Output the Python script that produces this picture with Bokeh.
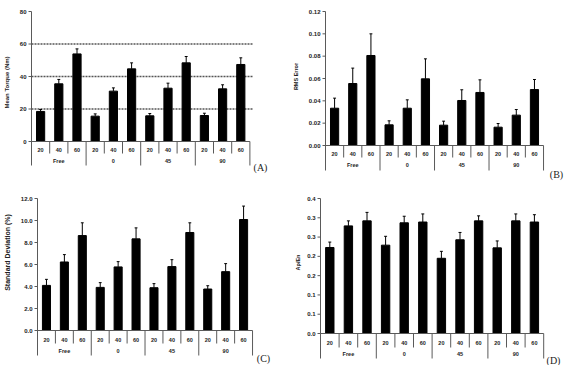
import math
from bokeh.plotting import figure
from bokeh.layouts import column, row
from bokeh.models import Range1d
from bokeh.core.properties import value
from bokeh.embed import file_html
from bokeh.resources import INLINE

# ---------------- data ----------------
groups = ["Free", "0", "45", "90"]
speeds = ["20", "40", "60"]

torque_mean = [18.5, 35.5, 53.9, 15.6, 31.0, 44.7, 15.8, 32.8, 48.4, 16.0, 32.4, 47.4]
torque_err = [1.2, 2.7, 3.1, 1.4, 2.0, 3.7, 1.4, 3.1, 3.9, 1.4, 2.5, 4.1]
torque_ticks = [0, 20, 40, 60, 80]
torque_tick_labels = ["0", "20", "40", "60", "80"]
torque_ref_lines = [20, 40, 60]

rms_mean = [0.0334, 0.0555, 0.0806, 0.0185, 0.0334, 0.0597, 0.0182, 0.0403, 0.0475, 0.0164, 0.0272, 0.0501]
rms_err = [0.0090, 0.0138, 0.0194, 0.0036, 0.0075, 0.0179, 0.0036, 0.0096, 0.0113, 0.0033, 0.0050, 0.0090]
rms_ticks = [0, 0.02, 0.04, 0.06, 0.08, 0.10, 0.12]
rms_tick_labels = ["0.00", "0.02", "0.04", "0.06", "0.08", "0.10", "0.12"]

sd_mean = [4.10, 6.23, 8.63, 3.92, 5.78, 8.33, 3.89, 5.81, 8.91, 3.77, 5.35, 10.09]
sd_err = [0.55, 0.67, 1.16, 0.43, 0.48, 1.00, 0.37, 0.63, 0.88, 0.30, 0.73, 1.22]
sd_ticks = [0, 2, 4, 6, 8, 10, 12]
sd_tick_labels = ["0.0", "2.0", "4.0", "6.0", "8.0", "10.0", "12.0"]

apen_mean = [0.223, 0.279, 0.292, 0.229, 0.287, 0.289, 0.195, 0.243, 0.292, 0.222, 0.292, 0.289]
apen_err = [0.014, 0.013, 0.022, 0.023, 0.017, 0.021, 0.018, 0.019, 0.013, 0.018, 0.018, 0.019]
apen_ticks = [0, 0.05, 0.10, 0.15, 0.20, 0.25, 0.30, 0.35]
apen_tick_labels = ["0.0", "0.1", "0.1", "0.2", "0.2", "0.3", "0.3", "0.4"]

LINE = "#5a5a5a"
TEXT = "#222222"
SANS = "Liberation Sans"


def panel(means, errs, ticks, tick_labels, ylabel, letter, g, ref_lines=None):
    W, H = g["w"], g["h"]
    left, top, base, row1, row2 = g["left"], g["top"], g["base"], g["row1"], g["row2"]
    slot = g["slot"]
    n = len(means)
    ymax = ticks[-1]
    upp = ymax / (base - top)          # data units per pixel

    def dx(px):
        return (px - left) / slot

    def dy(py):
        return (base - py) * upp

    p = figure(width=W, height=H, x_range=Range1d(dx(0), dx(W)), y_range=Range1d(dy(H), dy(0)),
               x_axis_location=None, y_axis_location=None, toolbar_location=None,
               output_backend="svg", min_border=0)
    p.outline_line_color = None
    p.xgrid.visible = False
    p.ygrid.visible = False

    # reference (dotted) lines
    if ref_lines:
        gr = g["grid_right"]
        p.segment(x0=[0] * len(ref_lines), y0=ref_lines, x1=[dx(gr)] * len(ref_lines), y1=ref_lines,
                  line_color="#555555", line_dash="2 1", line_width=1.4)

    # y axis: line, ticks, labels
    y_bottom = dy(row2)
    p.segment(x0=[0], y0=[ymax], x1=[0], y1=[y_bottom], line_color=LINE, line_width=1)
    nt = len(ticks)
    p.segment(x0=[dx(left - 3)] * nt, y0=ticks, x1=[0] * nt, y1=ticks, line_color=LINE, line_width=1)
    p.text(x=[dx(left - 5)] * nt, y=ticks, text=tick_labels,
           text_font=value(SANS), text_font_style="bold", text_font_size="6px",
           text_color=TEXT, text_align="right", text_baseline="middle")

    xs = [i + 0.5 for i in range(n)]
    tops = [m + e for m, e in zip(means, errs)]

    # bars
    p.vbar(x=xs, top=means, bottom=0, width=0.45, fill_color="black", line_color="black")
    # error bars (upper only)
    p.segment(x0=xs, y0=means, x1=xs, y1=tops, line_color="black", line_width=1)
    p.segment(x0=[x - 0.08 for x in xs], y0=tops, x1=[x + 0.08 for x in xs], y1=tops,
              line_color="black", line_width=1)

    # category axis: baseline and dividers
    p.segment(x0=[0], y0=[0], x1=[n], y1=[0], line_color=LINE, line_width=1)
    ng = len(groups)
    per = n // ng
    y_r1 = dy(row1)
    short_x = [i for i in range(1, n) if i % per != 0]
    p.segment(x0=short_x, y0=[0] * len(short_x), x1=short_x, y1=[y_r1] * len(short_x),
              line_color=LINE, line_width=1)
    long_x = [i * per for i in range(1, ng + 1)]
    p.segment(x0=long_x, y0=[0] * len(long_x), x1=long_x, y1=[y_bottom] * len(long_x),
              line_color=LINE, line_width=1)

    # category labels
    cat_labels = [s for _ in groups for s in speeds]
    p.text(x=xs, y=[dy(base + 0.7 * (row1 - base))] * n, text=cat_labels,
           text_font=value(SANS), text_font_style="bold", text_font_size="5.5px",
           text_color=TEXT, text_align="center", text_baseline="middle")
    gx = [i * per + per / 2 for i in range(ng)]
    p.text(x=gx, y=[dy(row1 + 0.6 * (row2 - row1))] * ng, text=groups,
           text_font=value(SANS), text_font_style="bold", text_font_size="5.5px",
           text_color=TEXT, text_align="center", text_baseline="middle")

    # y-axis title
    lx, ly = g["ylabel_pos"]
    p.text(x=[dx(lx)], y=[dy(ly)], text=[ylabel], angle=math.pi / 2,
           text_font=value(SANS), text_font_style="bold", text_font_size=g["ylabel_size"],
           text_color=TEXT, text_align="center", text_baseline="middle")
    # panel letter
    tx, ty = g["letter_pos"]
    p.text(x=[dx(tx)], y=[dy(ty)], text=[letter],
           text_font=value("Liberation Serif"), text_font_size="10px",
           text_color=TEXT, text_align="center", text_baseline="middle")
    return p


geo_a = dict(w=285, h=182, left=31, top=11, base=141, row1=153, row2=165, slot=18.2, grid_right=252,
             ylabel_pos=(6, 82), ylabel_size="6px", letter_pos=(260, 167))
geo_b = dict(w=285, h=182, left=40, top=11, base=145, row1=157, row2=170, slot=18.17,
             ylabel_pos=(10, 76), ylabel_size="5.5px", letter_pos=(271, 174))
geo_c = dict(w=285, h=183, left=37, top=16, base=148, row1=161, row2=173, slot=17.92,
             ylabel_pos=(7, 70), ylabel_size="7px", letter_pos=(263, 176))
geo_d = dict(w=285, h=183, left=35, top=16, base=151, row1=165, row2=176, slot=18.6,
             ylabel_pos=(12, 80), ylabel_size="5.5px", letter_pos=(268, 178))

pa = panel(torque_mean, torque_err, torque_ticks, torque_tick_labels, "Mean Torque (Nm)", "(A)",
           geo_a, ref_lines=torque_ref_lines)
pb = panel(rms_mean, rms_err, rms_ticks, rms_tick_labels, "RMS Error", "(B)", geo_b)
pc = panel(sd_mean, sd_err, sd_ticks, sd_tick_labels, "Standard Deviation (%)", "(C)", geo_c)
pd_ = panel(apen_mean, apen_err, apen_ticks, apen_tick_labels, "Ap/En", "(D)", geo_d)

layout = column(row(pa, pb), row(pc, pd_))
open("out.html", "w").write(file_html(layout, INLINE))
